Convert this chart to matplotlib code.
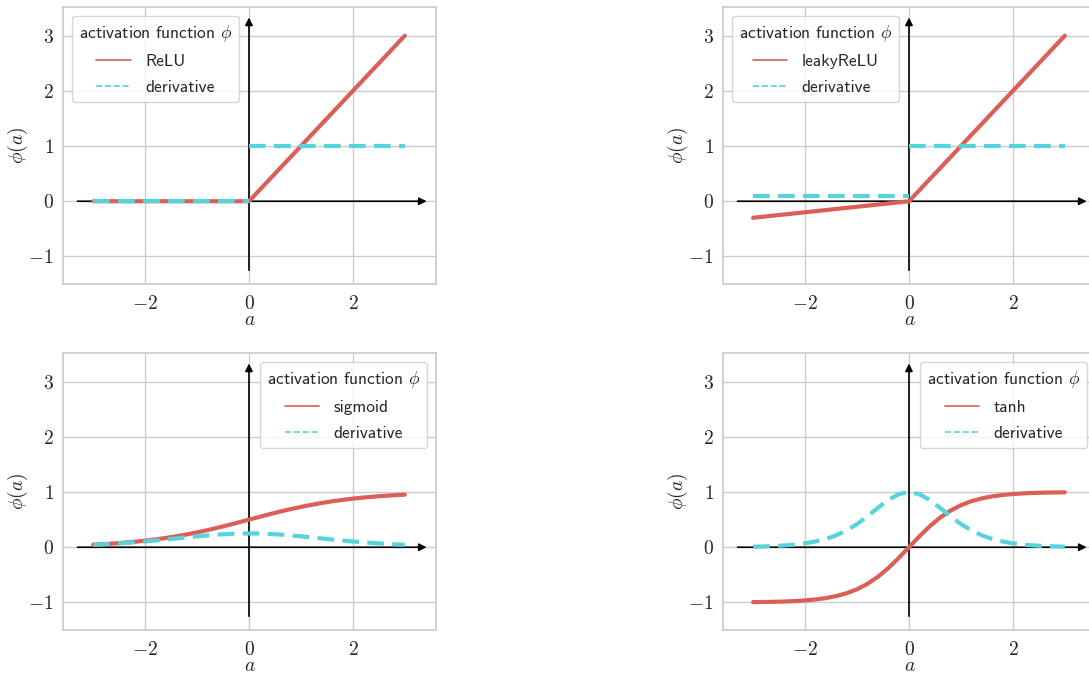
import numpy as np
import matplotlib
matplotlib.use("Agg")
import matplotlib.pyplot as plt
import seaborn as sns
from matplotlib.lines import Line2D

sns.set_theme(style="whitegrid")
plt.rcParams.update({
    "font.family": ["cmr10", "DejaVu Sans"],
    "mathtext.fontset": "cm",
    "axes.formatter.use_mathtext": True,
    "font.size": 14,
    "axes.labelsize": 14,
    "xtick.labelsize": 14,
    "ytick.labelsize": 14,
    "axes.unicode_minus": True,
})

# ---------------- data ----------------
grid_x = [-3.0, -2.8, -2.6, -2.4, -2.2, -2.0, -1.8, -1.6, -1.4, -1.2, -1.0,
          -0.8, -0.6, -0.4, -0.2, 0.0, 0.2, 0.4, 0.6, 0.8, 1.0, 1.2, 1.4,
          1.6, 1.8, 2.0, 2.2, 2.4, 2.6, 2.8, 3.0]

relu_x = [-3.0, 0.0, 3.0]
relu_y = [0.0, 0.0, 3.0]
relu_dx = [-3.0, 0.0, np.nan, 0.0, 3.0]
relu_dy = [0.0, 0.0, np.nan, 1.0, 1.0]

leaky_x = [-3.0, 0.0, 3.0]
leaky_y = [-0.3, 0.0, 3.0]
leaky_dx = [-3.0, 0.0, np.nan, 0.0, 3.0]
leaky_dy = [0.1, 0.1, np.nan, 1.0, 1.0]

sigmoid_y = [0.047, 0.057, 0.069, 0.083, 0.100, 0.119, 0.142, 0.168, 0.198,
             0.232, 0.269, 0.310, 0.354, 0.401, 0.450, 0.500, 0.550, 0.599,
             0.646, 0.690, 0.731, 0.768, 0.802, 0.832, 0.858, 0.881, 0.900,
             0.917, 0.931, 0.943, 0.953]
sigmoid_dy = [0.045, 0.054, 0.064, 0.076, 0.090, 0.105, 0.122, 0.140, 0.159,
              0.178, 0.197, 0.214, 0.229, 0.240, 0.248, 0.250, 0.248, 0.240,
              0.229, 0.214, 0.197, 0.178, 0.159, 0.140, 0.122, 0.105, 0.090,
              0.076, 0.064, 0.054, 0.045]

tanh_y = [-0.995, -0.993, -0.989, -0.984, -0.976, -0.964, -0.947, -0.922,
          -0.885, -0.834, -0.762, -0.664, -0.537, -0.380, -0.197, 0.0,
          0.197, 0.380, 0.537, 0.664, 0.762, 0.834, 0.885, 0.922, 0.947,
          0.964, 0.976, 0.984, 0.989, 0.993, 0.995]
tanh_dy = [0.010, 0.015, 0.022, 0.032, 0.047, 0.071, 0.104, 0.150, 0.216,
           0.305, 0.420, 0.559, 0.712, 0.856, 0.961, 1.0, 0.961, 0.856,
           0.712, 0.559, 0.420, 0.305, 0.216, 0.150, 0.104, 0.071, 0.047,
           0.032, 0.022, 0.015, 0.010]

names = ["ReLU", "leakyReLU", "sigmoid", "tanh"]
fx = [relu_x, leaky_x, grid_x, grid_x]
fy = [relu_y, leaky_y, sigmoid_y, tanh_y]
dx = [relu_dx, leaky_dx, grid_x, grid_x]
dy = [relu_dy, leaky_dy, sigmoid_dy, tanh_dy]
legend_locs = ["upper left", "upper left", "upper right", "upper right"]

red = "#db5f57"
cyan = "#57d3db"

fig = plt.figure(figsize=(10.89, 6.75), dpi=100)
W, H = 1089, 675
positions = [(63, 7), (723, 7), (63, 353), (723, 353)]
aw, ah = 373, 277

leg_font = {"family": "cmss10", "size": 12.5}

for i, name in enumerate(names):
    x0, y0 = positions[i]
    ax = fig.add_axes([x0 / W, 1 - (y0 + ah) / H, aw / W, ah / H])
    ax.set_xlim(-3.58, 3.6)
    ax.set_ylim(-1.5, 3.52)
    ax.set_xticks([-2, 0, 2])
    ax.set_yticks([-1, 0, 1, 2, 3])
    ax.tick_params(colors=".15", length=0)
    ax.tick_params(axis="x", pad=7.9)
    ax.tick_params(axis="y", pad=6.7)
    for s in ax.spines.values():
        s.set_color(".8")
    # coordinate axes arrows
    ax.annotate("", xy=(3.42, 0), xytext=(-3.3, 0),
                arrowprops=dict(arrowstyle="-|>", color="black", lw=1.2,
                                mutation_scale=11, shrinkA=0, shrinkB=0),
                zorder=1.5)
    ax.annotate("", xy=(0, 3.33), xytext=(0, -1.25),
                arrowprops=dict(arrowstyle="-|>", color="black", lw=1.2,
                                mutation_scale=11, shrinkA=0, shrinkB=0),
                zorder=1.5)
    ax.plot(fx[i], fy[i], color=red, lw=3, zorder=2)
    ax.plot(dx[i], dy[i], color=cyan, lw=3, ls="--", dashes=(4, 2), zorder=2.1)
    ax.set_xlabel(r"$a$", va="center")
    ax.set_ylabel(r"$\phi(a)$", va="center")
    ax.xaxis.set_label_coords(0.5, -0.13)
    ax.yaxis.set_label_coords(-0.121, 0.5)
    handles = [Line2D([], [], color=red, lw=1.2),
               Line2D([], [], color=cyan, lw=1.2, ls="--")]
    ax.legend(handles, [name, "derivative"], loc=legend_locs[i],
              title=r"activation function $\phi$", prop=leg_font,
              title_fontproperties=leg_font, labelspacing=0.6)

fig.savefig("out.png", dpi=100)
